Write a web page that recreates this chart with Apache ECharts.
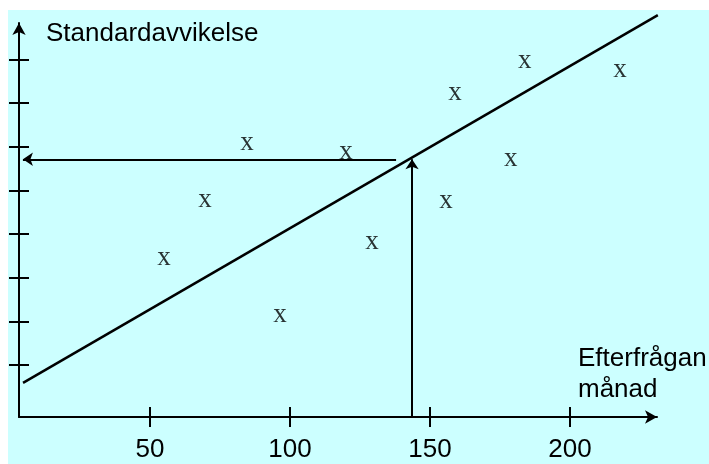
<!DOCTYPE html>
<html>
<head>
<meta charset="utf-8">
<script src="https://cdn.jsdelivr.net/npm/echarts@6/dist/echarts.min.js"></script>
<style>html,body{margin:0;padding:0;background:#fff}#c{width:709px;height:464px}</style>
</head>
<body>
<div id="c"></div>
<script>
// Data
var xTickValues = [50, 100, 150, 200];
var yTickValues = [1, 2, 3, 4, 5, 6, 7, 8];
var pointX = [55.0, 69.6, 84.6, 96.4, 120.0, 129.3, 155.7, 158.9, 178.9, 183.9, 217.9];
var pointY = [3.45, 4.78, 6.08, 2.14, 5.87, 3.81, 4.75, 7.22, 5.71, 7.96, 7.75];
var regressionX = [4.64, 231.4];
var regressionY = [0.59, 9.01];
var readX = 143.6;      // chosen demand
var readY = 5.71;       // read-off standard deviation
var horizArrowFromX = 137.9;
var horizArrowToX = 4.6;
var xMin = 3.2, xMax = 231.1;
var yMin = -0.19, yMax = 8.83;

var chart = echarts.init(document.getElementById('c'), null, {renderer: 'canvas'});

var sansFont = '"Liberation Sans", Arial, sans-serif';
var serifFont = '"Liberation Serif", "Times New Roman", serif';

function yAx(inside, showLine) {
  return {
    type: 'value', min: yMin, max: yMax, position: 'left',
    axisLine: {show: showLine, onZero: false, symbol: ['none', 'arrow'], symbolSize: [10, 12],
      lineStyle: {color: '#000', width: 2}},
    axisTick: {show: true, inside: inside, length: 10, customValues: yTickValues,
      lineStyle: {color: '#000', width: 2}},
    axisLabel: {show: false},
    splitLine: {show: false}
  };
}
function xAx(inside, showLine) {
  return {
    type: 'value', min: xMin, max: xMax, position: 'bottom',
    axisLine: {show: showLine, onZero: false, symbol: ['none', 'arrow'], symbolSize: [10, 12],
      lineStyle: {color: '#000', width: 2}},
    axisTick: {show: true, inside: inside, length: 10, customValues: xTickValues,
      lineStyle: {color: '#000', width: 2}},
    axisLabel: {show: !inside, customValues: xTickValues, margin: 20,
      color: '#000', fontSize: 26, fontFamily: sansFont},
    splitLine: {show: false}
  };
}

var option = {
  backgroundColor: '#fff',
  animation: false,
  graphic: [
    {type: 'rect', z: -100, silent: true, shape: {x: 8, y: 10, width: 701, height: 454},
      style: {fill: '#CCFFFF'}},
    {type: 'text', left: 46, top: 21, z: 10,
      style: {text: 'Standardavvikelse', font: '26px ' + sansFont, fill: '#000'}},
    {type: 'text', left: 578, top: 343, z: 10,
      style: {text: 'Efterfrågan\nmånad', font: '26px ' + sansFont, fill: '#000', lineHeight: 31}}
  ],
  grid: {left: 19, right: 52, top: 23, bottom: 47, containLabel: false},
  xAxis: [xAx(false, true), xAx(true, false)],
  yAxis: [yAx(false, true), yAx(true, false)],
  series: [
    {
      type: 'line', xAxisIndex: 0, yAxisIndex: 0, clip: false, symbol: 'none',
      lineStyle: {color: '#000', width: 2.5},
      data: regressionX.map(function (x, i) { return [x, regressionY[i]]; })
    },
    {
      type: 'lines', coordinateSystem: 'cartesian2d', xAxisIndex: 0, yAxisIndex: 0,
      symbol: ['none', 'arrow'], symbolSize: 10,
      lineStyle: {color: '#000', width: 2, opacity: 1, curveness: 0},
      data: [
        {coords: [[horizArrowFromX, readY], [horizArrowToX, readY]]},
        {coords: [[readX, yMin], [readX, readY]]}
      ]
    },
    {
      type: 'scatter', xAxisIndex: 0, yAxisIndex: 0, symbol: 'circle', symbolSize: 1,
      itemStyle: {color: 'rgba(0,0,0,0)'},
      label: {show: true, position: 'inside', formatter: 'x', color: '#000',
        fontSize: 27, fontFamily: serifFont, offset: [0, 0]},
      data: pointX.map(function (x, i) { return [x, pointY[i]]; })
    }
  ]
};
chart.setOption(option);
</script>
</body>
</html>
